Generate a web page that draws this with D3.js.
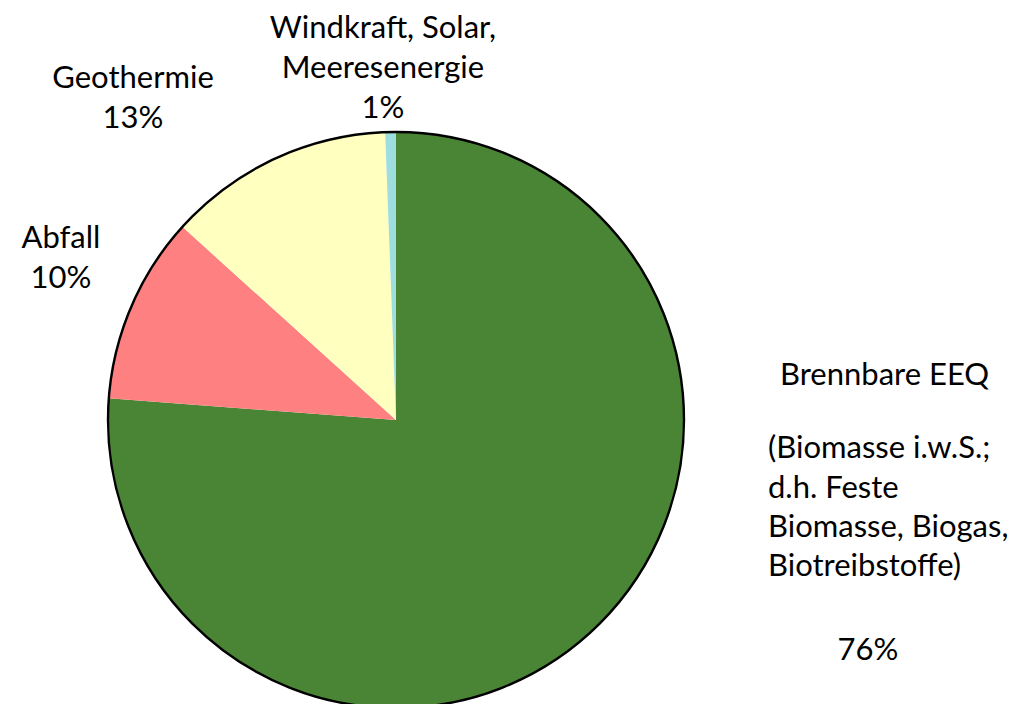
<!DOCTYPE html>
<html>
<head>
<meta charset="utf-8">
<script src="https://cdn.jsdelivr.net/npm/d3@7"></script>
<style>
  html, body { margin: 0; padding: 0; background: #fff; }
  svg { display: block; }
  text { font-family: Lato, sans-serif; fill: #000; }
</style>
</head>
<body>
<svg id="chart" width="1030" height="704"></svg>
<script>
const categories = ["Brennbare EEQ", "Abfall", "Geothermie", "Windkraft, Solar, Meeresenergie"];
const values = [76.2, 10.5, 12.7, 0.6];
const percentLabels = ["76%", "10%", "13%", "1%"];
const colors = ["#4A8535", "#FF8080", "#FFFFC0", "#9EDEDE"];
const labelLines = [
  ["Brennbare EEQ", "(Biomasse i.w.S.;", "d.h. Feste", "Biomasse, Biogas,", "Biotreibstoffe)"],
  ["Abfall"],
  ["Geothermie"],
  ["Windkraft, Solar,", "Meeresenergie"]
];

const svg = d3.select("#chart");
const cx = 396, cy = 420, r = 288;
const g = svg.append("g").attr("transform", `translate(${cx},${cy})`);

const data = categories.map((c, i) => ({ name: c, value: values[i], i }));
const pie = d3.pie().value(d => d.value).sort(null);
const arc = d3.arc().innerRadius(0).outerRadius(r);
const arcs = pie(data);

g.selectAll("path.slice").data(arcs).enter().append("path")
  .attr("class", "slice")
  .attr("d", arc)
  .attr("fill", d => colors[d.data.i]);

g.append("circle").attr("r", r).attr("fill", "none").attr("stroke", "#000").attr("stroke-width", 2.4);

const fs = 31, lh = 40;

function addText(x, y, anchor, str) {
  svg.append("text").attr("font-size", fs).attr("text-anchor", anchor)
    .attr("x", x).attr("y", y).text(str);
}

// Brennbare EEQ block (left aligned, right of the pie)
const bY = [385, 458, 497.5, 536.5, 575.5];
const bX = [780, 768, 768, 768, 768];
labelLines[0].forEach((ln, k) => addText(bX[k], bY[k], "start", ln));
addText(868, 660, "middle", percentLabels[0]);

// Centered labels
const centered = [
  { i: 1, x: 61, y: 248 },
  { i: 2, x: 133, y: 88 },
  { i: 3, x: 383, y: 38 }
];
centered.forEach(L => {
  const lines = labelLines[L.i];
  lines.forEach((ln, k) => addText(L.x, L.y + k * lh, "middle", ln));
  addText(L.x, L.y + lines.length * lh, "middle", percentLabels[L.i]);
});
</script>
</body>
</html>
